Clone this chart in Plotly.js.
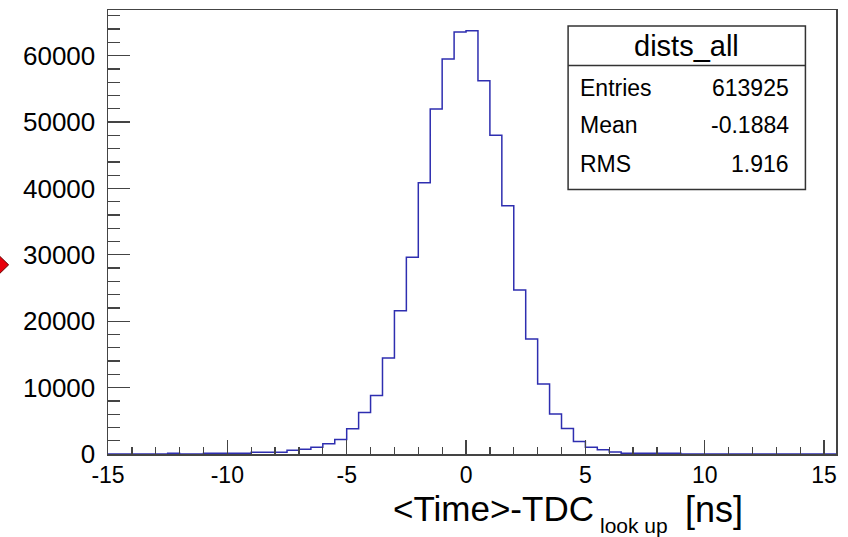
<!DOCTYPE html>
<html>
<head>
<meta charset="utf-8">
<script src="https://cdn.plot.ly/plotly-3.0.1.min.js"></script>
<style>html,body{margin:0;padding:0;background:#fff;}#chart{width:848px;height:537px;}</style>
</head>
<body>
<div id="chart"></div>
<script>
// Histogram "dists_all": lower bin edges (ns) and counts, bin width 0.5 ns
const binLowEdges = [
  -15, -14.5, -14, -13.5, -13, -12.5, -12, -11.5, -11, -10.5,
  -10, -9.5, -9, -8.5, -8, -7.5, -7, -6.5, -6, -5.5,
  -5, -4.5, -4, -3.5, -3, -2.5, -2, -1.5, -1, -0.5,
  0, 0.5, 1, 1.5, 2, 2.5, 3, 3.5, 4, 4.5,
  5, 5.5, 6, 6.5, 7, 7.5, 8, 8.5, 9, 9.5,
  10, 10.5, 11, 11.5, 12, 12.5, 13, 13.5, 14, 14.5, 15
];
const binCounts = [
  0, 0, 0, 0, 0, 100, 0, 0, 100, 100,
  100, 100, 280, 280, 280, 550, 700, 1000, 1550, 2200,
  3810, 6260, 8820, 14450, 21570, 29655, 40840, 51980, 59500, 63570,
  63770, 56240, 48020, 37380, 24690, 17310, 10540, 6020, 3850, 1900,
  1000, 650, 300, 100, 100, 100, 100, 100, 0, 0,
  0, 0, 0, 0, 0, 0, 0, 0, 0, 0, 0
];
const binWidth = 0.5;
const xTickVals = [-15, -10, -5, 0, 5, 10, 15];
const xTickText = ["-15", "-10", "-5", "0", "5", "10", "15"];
const statsTitle = "dists_all";
const statsLabels = ["Entries", "Mean", "RMS"];
const statsValues = ["613925", "-0.1884", "1.916"];
const xTitleMain = "&lt;Time&gt;-TDC";
const xTitleSub = "look up";
const xTitleUnit = "[ns]";

// step outline built from the bins
const xs = binLowEdges.slice();
xs.push(binLowEdges[binLowEdges.length - 1] + binWidth);
const ys = binCounts.slice();
ys.push(binCounts[binCounts.length - 1]);

const font = "Liberation Sans, Arial, Helvetica, sans-serif";
const axisCol = "#444";

const trace = {
  type: "scatter", mode: "lines", x: xs, y: ys,
  line: {shape: "hv", color: "#2e2eb0", width: 1.5},
  hoverinfo: "skip", showlegend: false
};

// stats box geometry (paper coords)
const bx0 = 0.632, bx1 = 0.958, by0 = 0.596, by1 = 0.964, bsep = 0.875;
const rowY = [0.824, 0.741, 0.653];

const annotations = [
  {xref: "paper", yref: "paper", x: (bx0 + bx1) / 2, y: 0.92, text: statsTitle,
   showarrow: false, xanchor: "center", yanchor: "middle", font: {family: font, size: 29, color: "#000"}}
];
statsLabels.forEach((lab, i) => {
  annotations.push({xref: "paper", yref: "paper", x: 0.646, y: rowY[i], text: lab, showarrow: false,
    xanchor: "left", yanchor: "middle", font: {family: font, size: 23, color: "#000"}});
  annotations.push({xref: "paper", yref: "paper", x: 0.938, y: rowY[i], text: statsValues[i], showarrow: false,
    xanchor: "right", yanchor: "middle", font: {family: font, size: 23, color: "#000"}});
});
annotations.push({xref: "paper", yref: "paper", x: 0.6707, y: -0.122, text: xTitleMain, showarrow: false,
  xanchor: "right", yanchor: "middle", font: {family: font, size: 35, color: "#000"}});
annotations.push({xref: "paper", yref: "paper", x: 0.6734, y: -0.162, text: xTitleSub, showarrow: false,
  xanchor: "left", yanchor: "middle", font: {family: font, size: 21, color: "#000"}});
annotations.push({xref: "paper", yref: "paper", x: 0.8755, y: -0.124, text: xTitleUnit, showarrow: false,
  xanchor: "right", yanchor: "middle", font: {family: font, size: 36, color: "#000"}});

const layout = {
  width: 848, height: 537,
  margin: {l: 108, r: 12, t: 10, b: 83},
  paper_bgcolor: "#fff", plot_bgcolor: "#fff",
  font: {family: font, color: "#000"},
  xaxis: {
    range: [-15, 15.5], tickmode: "array", tickvals: xTickVals, ticktext: xTickText,
    ticks: "inside", ticklen: 14, tickwidth: 1.3, tickcolor: axisCol,
    minor: {dtick: 1, tick0: 0, ticks: "inside", ticklen: 7, tickwidth: 1.3, tickcolor: axisCol, showgrid: false},
    showgrid: false, zeroline: false, showline: true, mirror: true,
    linecolor: axisCol, linewidth: 1.5,
    tickfont: {family: font, size: 23, color: "#000"}, ticklabelstandoff: 0
  },
  yaxis: {
    range: [0, 66880], tickmode: "linear", tick0: 0, dtick: 10000, tickformat: "d",
    ticks: "inside", ticklen: 22, tickwidth: 1.3, tickcolor: axisCol,
    minor: {dtick: 2000, ticks: "inside", ticklen: 12, tickwidth: 1.3, tickcolor: axisCol, showgrid: false},
    showgrid: false, zeroline: false, showline: true, mirror: true,
    linecolor: axisCol, linewidth: 1.5,
    tickfont: {family: font, size: 26, color: "#000"}, ticklabelstandoff: 6
  },
  shapes: [
    {type: "rect", xref: "paper", yref: "paper", x0: bx0, x1: bx1, y0: by0, y1: by1,
     line: {color: "#333", width: 1.5}, fillcolor: "#fff", layer: "above"},
    {type: "line", xref: "paper", yref: "paper", x0: bx0, x1: bx1, y0: bsep, y1: bsep,
     line: {color: "#333", width: 1.5}, layer: "above"},
    {type: "path", xref: "paper", yref: "paper",
     path: "M -0.1644,0.4260 L -0.1507,0.4486 L -0.1365,0.4260 L -0.1507,0.4035 Z",
     fillcolor: "#e8000b", line: {color: "#600", width: 1}, layer: "above"}
  ],
  annotations: annotations,
  showlegend: false
};

Plotly.newPlot("chart", [trace], layout, {displayModeBar: false, staticPlot: true});
</script>
</body>
</html>
